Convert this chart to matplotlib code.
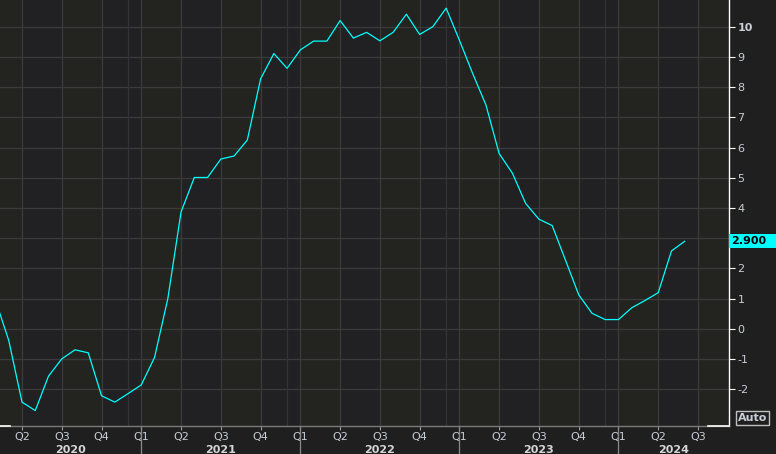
import matplotlib
matplotlib.use("Agg")
import matplotlib.pyplot as plt
import matplotlib.transforms as mtransforms
from matplotlib.patches import Rectangle
import numpy as np

# monthly values, Feb 2020 .. Jun 2024 (month index: Jan 2020 = 0)
first_month = 1
values = [
    0.95, -0.38, -2.42, -2.70, -1.56, -0.99, -0.69, -0.79, -2.21, -2.42, -2.14,
    -1.85, -0.94, 1.00, 3.87, 5.01, 5.01, 5.62, 5.72, 6.25, 8.27, 9.11, 8.62,
    9.23, 9.52, 9.52, 10.20, 9.62, 9.81, 9.53, 9.81, 10.41, 9.74, 10.00, 10.61,
    9.55, 8.45, 7.41, 5.80, 5.15, 4.15, 3.63, 3.42, 2.28, 1.13, 0.52, 0.31,
    0.31, 0.70, 0.94, 1.20, 2.58, 2.90,
]
years = [2020, 2021, 2022, 2023, 2024]
quarter_names = ["Q1", "Q2", "Q3", "Q4"]
y_ticks = list(range(-2, 11))

BG_FIG = "#1f1f1f"
BAND_A = "#232420"
BAND_B = "#212022"
GRID = "#3b3b3b"
TEXT = "#c9cdd8"
LINE = "#00ffff"

x = np.arange(first_month, first_month + len(values))
x_min, x_max = 1.34, 56.34
y_min, y_max = -3.21, 10.88

fig = plt.figure(figsize=(7.76, 4.54), dpi=100, facecolor=BG_FIG)
ax = fig.add_axes([0, 28 / 454, 729 / 776, 426 / 454])
ax.set_xlim(x_min, x_max)
ax.set_ylim(y_min, y_max)

# alternating quarter shading
for q in range(0, 57, 3):
    color = BAND_A if (q // 3) % 2 == 0 else BAND_B
    ax.axvspan(q, q + 3, color=color, lw=0, zorder=0)

# grid
for v in y_ticks:
    ax.axhline(v, color=GRID, lw=0.9, zorder=1)
for q in range(3, 57, 3):
    ax.axvline(q, color=GRID, lw=0.9, zorder=1)
for d in [11, 23, 35, 47]:
    ax.axvline(d, color="#333333", lw=0.9, zorder=1)

ax.plot(x, values, color=LINE, lw=0.9, zorder=3)

# spines
for s in ["top", "left"]:
    ax.spines[s].set_visible(False)
ax.spines["right"].set_color("white")
ax.spines["right"].set_linewidth(1.0)
ax.spines["bottom"].set_color("#7a7a7a")
ax.spines["bottom"].set_linewidth(1.0)
ax.axhline(y_min, xmin=0, xmax=10 / 729, color="white", lw=1.2, clip_on=False, zorder=4)
ax.axhline(y_min, xmin=708 / 729, xmax=1, color="white", lw=1.2, clip_on=False, zorder=4)

# y axis on the right; the "3" label sits under the last-value box
ax.yaxis.tick_right()
ax.set_yticks(y_ticks)
ax.set_yticklabels(["" if v == 3 else str(v) for v in y_ticks])
ax.tick_params(axis="y", direction="out", length=4, width=0.8, color="white",
               labelcolor=TEXT, labelsize=8, pad=2)
for lab in ax.get_yticklabels():
    if lab.get_text() == "10":
        lab.set_fontweight("bold")

blend_y = mtransforms.blended_transform_factory(ax.transAxes, ax.transData)
ax.text(1.0 + 9 / 729, 11, "11", transform=blend_y, color=TEXT, fontsize=8,
        va="center", ha="left", clip_on=False)

# last value marker
box_h = 14 / 30.23
ax.add_patch(Rectangle((1.0, values[-1] - box_h / 2), 47 / 729, box_h,
                       transform=blend_y, facecolor=LINE, edgecolor="none",
                       clip_on=False, zorder=5))
ax.text(1.0 + 2 / 729, values[-1], f"{values[-1]:.3f}", transform=blend_y,
        color="black", fontsize=8, fontweight="bold", va="center", ha="left",
        clip_on=False, zorder=6)

ax.text(1.0 + 9 / 729, -2.94, "Auto", transform=blend_y, color=TEXT, fontsize=8,
        fontweight="bold", va="center", ha="left", clip_on=False,
        bbox=dict(boxstyle="square,pad=0.15", fc="none", ec="#bfbfbf", lw=1))

# x axis: quarters and years
q_pos = list(range(3, 57, 3))
ax.set_xticks(q_pos)
ax.set_xticklabels([quarter_names[(q // 3) % 4] for q in q_pos])
ax.tick_params(axis="x", direction="out", length=3, width=0.8, color="#9a9a9a",
               labelcolor=TEXT, labelsize=8, pad=1)

blend_x = mtransforms.blended_transform_factory(ax.transData, ax.transAxes)
for i, yr in enumerate(years):
    start = i * 12
    lo, hi = max(start, x_min), min(start + 12, x_max)
    ax.text((lo + hi) / 2, -24 / 426, str(yr), transform=blend_x, color="#d6d6d6",
            fontsize=8, fontweight="bold", ha="center", va="center", clip_on=False)
    if start > x_min:
        ax.plot([start, start], [0, -28 / 426], transform=blend_x, color="#8a8a8a",
                lw=0.9, clip_on=False)

fig.savefig("out.png", dpi=100, facecolor=BG_FIG)
